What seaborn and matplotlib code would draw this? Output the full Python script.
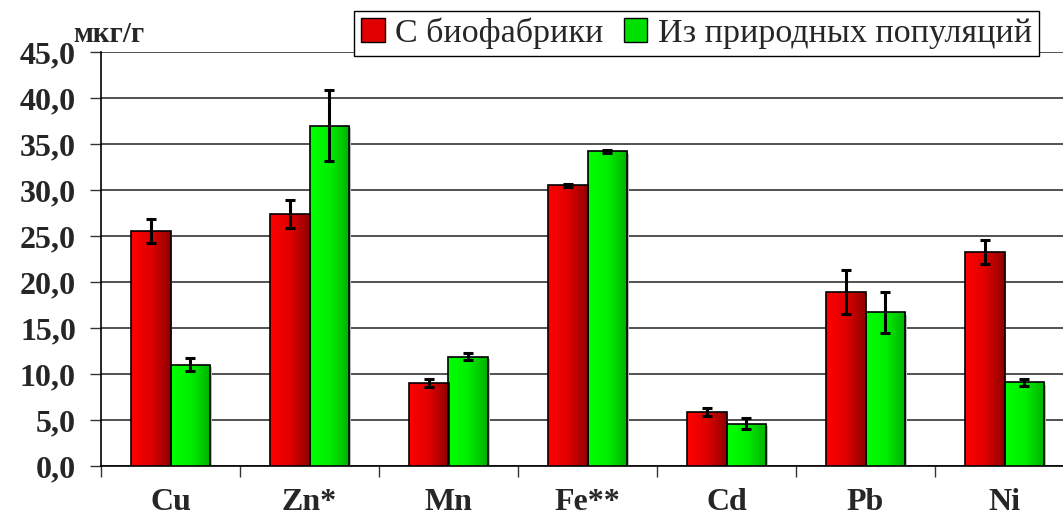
import numpy as np
import pandas as pd
import matplotlib
matplotlib.use("Agg")
import matplotlib.pyplot as plt
import seaborn as sns
from matplotlib.colors import LinearSegmentedColormap
from matplotlib.patches import Patch

# data
elements = ["Cu", "Zn*", "Mn", "Fe**", "Cd", "Pb", "Ni"]
farm_vals = [25.5, 27.4, 9.0, 30.5, 5.9, 18.9, 23.3]
farm_err = [1.3, 1.55, 0.45, 0.15, 0.45, 2.4, 1.3]
wild_vals = [11.0, 37.0, 11.9, 34.2, 4.6, 16.7, 9.1]
wild_err = [0.7, 3.85, 0.4, 0.2, 0.6, 2.2, 0.4]
series = ["С биофабрики", "Из природных популяций"]
y_ticks = [0, 5, 10, 15, 20, 25, 30, 35, 40, 45]

df = pd.DataFrame({
    "element": elements * 2,
    "value": farm_vals + wild_vals,
    "err": farm_err + wild_err,
    "source": [series[0]] * len(elements) + [series[1]] * len(elements),
})

sns.set_theme(style="white")
plt.rcParams["font.family"] = ["Liberation Serif", "DejaVu Serif"]

fig = plt.figure(figsize=(10.63, 5.21), dpi=100)
ax = fig.add_axes([101 / 1063, 55 / 521, 973 / 1063, 414 / 521])

palette = {series[0]: "#ff0000", series[1]: "#00ff00"}
sns.barplot(data=df, x="element", y="value", hue="source", hue_order=series,
            order=elements, palette=palette, width=0.575, errorbar=None,
            edgecolor="black", linewidth=1.2, legend=False, ax=ax, zorder=3)

# horizontal gradient fill inside each bar
grads = {
    series[0]: LinearSegmentedColormap.from_list("r", ["#ff0000", "#e00000", "#900000"]),
    series[1]: LinearSegmentedColormap.from_list("g", ["#00ff00", "#00ee00", "#00b000"]),
}
grad = np.linspace(0, 1, 64).reshape(1, -1)
bars = [p for p in ax.patches if p.get_height() > 0]
n = len(elements)
errs = farm_err + wild_err
for i, p in enumerate(bars):
    name = series[0] if i < n else series[1]
    x, w, h = p.get_x(), p.get_width(), p.get_height()
    # small grey shadow
    ax.bar(x + w / 2 + 0.012, h, width=w, bottom=-0.25, color="#bbbbbb",
           zorder=2, linewidth=0)
    im = ax.imshow(grad, cmap=grads[name], aspect="auto",
                   extent=[x, x + w, 0, h], zorder=3.5, interpolation="bilinear")
    im.set_clip_path(p)
    p.set_facecolor("none")
    p.set_zorder(4)
    ax.errorbar(x + w / 2, h, yerr=errs[i], fmt="none", ecolor="black",
                elinewidth=2.2, capsize=3.5, capthick=2.2, zorder=5)

ax.set_xlim(-0.5, n - 0.5)
ax.set_ylim(0, 45)
ax.set_yticks(y_ticks)
ax.set_yticklabels([f"{v:.1f}".replace(".", ",") for v in y_ticks],
                   fontsize=23, fontweight="bold")
ax.set_xticks(range(n))
ax.set_xticklabels(elements, fontsize=23, fontweight="bold")
ax.tick_params(axis="x", length=0, pad=16)
ax.set_xticks(np.arange(-0.5, n), minor=True)
ax.tick_params(axis="x", which="minor", length=8, width=1, color="#333333",
               direction="out", bottom=True)
ax.tick_params(axis="y", length=8, width=1, color="#333333", direction="out",
               left=True, pad=10)
ax.set_xlabel("")
ax.set_ylabel("")

ax.yaxis.grid(True, color="#333333", linewidth=1.2, zorder=0)
ax.set_axisbelow(True)
for s in ["top", "right"]:
    ax.spines[s].set_visible(False)
ax.spines["left"].set_color("black")
ax.spines["bottom"].set_color("black")
ax.spines["left"].set_linewidth(1.2)
ax.spines["bottom"].set_linewidth(1.2)

fig.text(73 / 1063, 1 - 34 / 521, "мкг/г", fontsize=21, fontweight="bold",
         va="center", ha="left")

handles = [Patch(facecolor="#e00000", edgecolor="black", label=series[0]),
           Patch(facecolor="#00e000", edgecolor="black", label=series[1])]
leg = fig.legend(handles=handles, loc="upper left",
                 bbox_to_anchor=(354 / 1063, 1 - 11 / 521), ncol=2,
                 fontsize=24.5, frameon=True, fancybox=False, framealpha=1,
                 edgecolor="black", handlelength=0.7, handleheight=0.7,
                 handletextpad=0.3, columnspacing=0.6, borderpad=0.2,
                 borderaxespad=0)
leg.get_frame().set_linewidth(1.0)

fig.savefig("out.png", dpi=100)
